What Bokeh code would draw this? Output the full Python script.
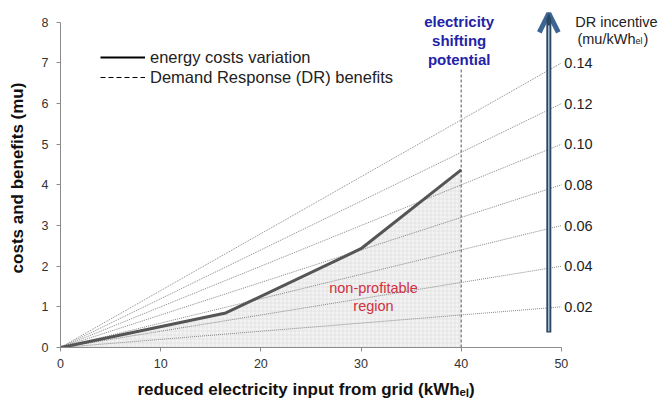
from bokeh.plotting import figure
from bokeh.models import (Range1d, Label, Legend, LegendItem, Arrow, OpenHead,
                          FixedTicker, Title)
from bokeh.core.properties import value
from bokeh.embed import file_html
from bokeh.resources import INLINE

# ---- data ----
incentives = [0.02, 0.04, 0.06, 0.08, 0.10, 0.12, 0.14]
incentive_labels = ["0.02", "0.04", "0.06", "0.08", "0.10", "0.12", "0.14"]
reduced_input = [0, 1, 16.5, 30, 40]
energy_cost = [0, 0.05, 0.85, 2.43, 4.37]
shifting_potential = 40
max_input = 50
x_ticks = [0, 10, 20, 30, 40, 50]
y_ticks = [0, 1, 2, 3, 4, 5, 6, 7, 8]
shift_top = 6.87
arrow_x = 48.75
arrow_y = [0.37, 8.22]
nan = float("nan")

FONT = "Liberation Sans"

p = figure(width=669, height=405, output_backend="svg", toolbar_location=None,
           x_range=Range1d(0, 60), y_range=Range1d(0, 8.34),
           min_border_left=60, min_border_right=8, min_border_top=8,
           min_border_bottom=57)
p.outline_line_color = None
p.grid.visible = False
p.background_fill_color = "white"

# axes
for ax in (p.xaxis[0], p.yaxis[0]):
    ax.axis_line_color = "#8c8c8c"
    ax.major_tick_line_color = "#8c8c8c"
    ax.minor_tick_line_color = None
    ax.major_tick_out = 4
    ax.major_tick_in = 0
    ax.major_label_text_font = FONT
    ax.major_label_text_font_size = "12.5px"
    ax.major_label_text_color = "#333333"
    ax.axis_label_text_font = FONT
    ax.axis_label_text_font_size = "17px"
    ax.axis_label_text_font_style = "bold"
    ax.axis_label_text_color = "#111111"
p.xaxis.ticker = FixedTicker(ticks=x_ticks)
p.yaxis.ticker = FixedTicker(ticks=y_ticks)
p.xaxis.bounds = (0, max_input)
p.yaxis.bounds = (0, 8)
p.xaxis.major_label_standoff = 7
p.yaxis.major_label_standoff = 8
p.yaxis.axis_label = "costs and benefits (mu)"
p.yaxis.axis_label_standoff = 12

# x axis title, placed under the 0-50 axis span
p.add_layout(Title(text="reduced electricity input from grid (kWh\u2091\u2097)",
                   align="left", offset=77, standoff=14,
                   text_font=FONT, text_font_size="17px", text_font_style="bold",
                   text_color="#111111"), "below")

# non-profitable region
p.varea(x=reduced_input, y1=[0] * len(reduced_input), y2=energy_cost,
        fill_color="#f3f3f3", hatch_pattern="+", hatch_color="#dadada",
        hatch_scale=4, hatch_weight=0.6)

# DR benefit lines
xs = [[0, max_input] for _ in incentives]
ys = [[0, k * max_input] for k in incentives]
p.multi_line(xs=xs, ys=ys, line_color="#7a7a7a", line_width=0.9, line_dash="1 1")

# incentive labels at the line ends
p.text(x=[max_input] * len(incentives), y=[k * max_input for k in incentives],
       text=incentive_labels, x_offset=3, text_align="left", text_baseline="middle",
       text_font=value(FONT), text_font_size="14.5px", text_color="#222222")

# shifting potential line
p.segment(x0=[shifting_potential], y0=[0], x1=[shifting_potential], y1=[shift_top],
          line_color="#555555", line_width=1, line_dash="3 2")

# energy cost curve
p.line(reduced_input, energy_cost, line_color="#555555", line_width=3)

# arrow
p.add_layout(Arrow(x_start=arrow_x, y_start=arrow_y[0], x_end=arrow_x, y_end=arrow_y[1],
                   line_color="#2c4763", line_width=5,
                   end=OpenHead(size=19, line_width=5, line_color="#3d6593")))
p.add_layout(Arrow(x_start=arrow_x, y_start=arrow_y[0] + 0.03, x_end=arrow_x,
                   y_end=arrow_y[1] - 0.3, line_color="#b4c6d8", line_width=1.4,
                   end=None))

# legend (black sample lines, as in the reference)
r_solid = p.line([nan], [nan], line_color="black", line_width=2.2)
r_dash = p.line([nan], [nan], line_color="black", line_width=1.2, line_dash="5 3")
legend = Legend(items=[LegendItem(label="energy costs variation", renderers=[r_solid]),
                       LegendItem(label="Demand Response (DR) benefits", renderers=[r_dash])],
                location=(40, 260), padding=0, margin=0, spacing=0,
                glyph_width=45, glyph_height=20, label_height=20, label_standoff=5,
                label_text_font=FONT, label_text_font_size="16.5px",
                label_text_color="#222222", border_line_color=None,
                background_fill_alpha=0)
p.add_layout(legend, "center")

# annotations
p.add_layout(Label(x=shifting_potential, y=7.55, x_offset=-2,
                   text="electricity\nshifting\npotential",
                   text_align="center", text_baseline="middle",
                   text_font=FONT, text_font_size="15px", text_font_style="bold",
                   text_color="#2323a8", text_line_height=1.13))
p.add_layout(Label(x=31.25, y=1.24, text="non-profitable\nregion",
                   text_align="center", text_baseline="middle",
                   text_font=FONT, text_font_size="14.5px",
                   text_color="#d03040", text_line_height=1.17))
p.add_layout(Label(x=55.5, y=8.02, text="DR incentive", text_align="center",
                   text_baseline="middle", text_font=FONT, text_font_size="14.5px",
                   text_color="#222222"))
p.add_layout(Label(x=57.4, y=7.6, text="(mu/kWh", text_align="right",
                   text_baseline="middle", text_font=FONT, text_font_size="14.5px",
                   text_color="#222222"))
p.add_layout(Label(x=57.4, y=7.55, text="el", text_align="left",
                   text_baseline="middle", text_font=FONT, text_font_size="9px",
                   text_color="#222222"))
p.add_layout(Label(x=58.2, y=7.6, text=")", text_align="left",
                   text_baseline="middle", text_font=FONT, text_font_size="14.5px",
                   text_color="#222222"))

open("out.html", "w").write(file_html(p, INLINE))
